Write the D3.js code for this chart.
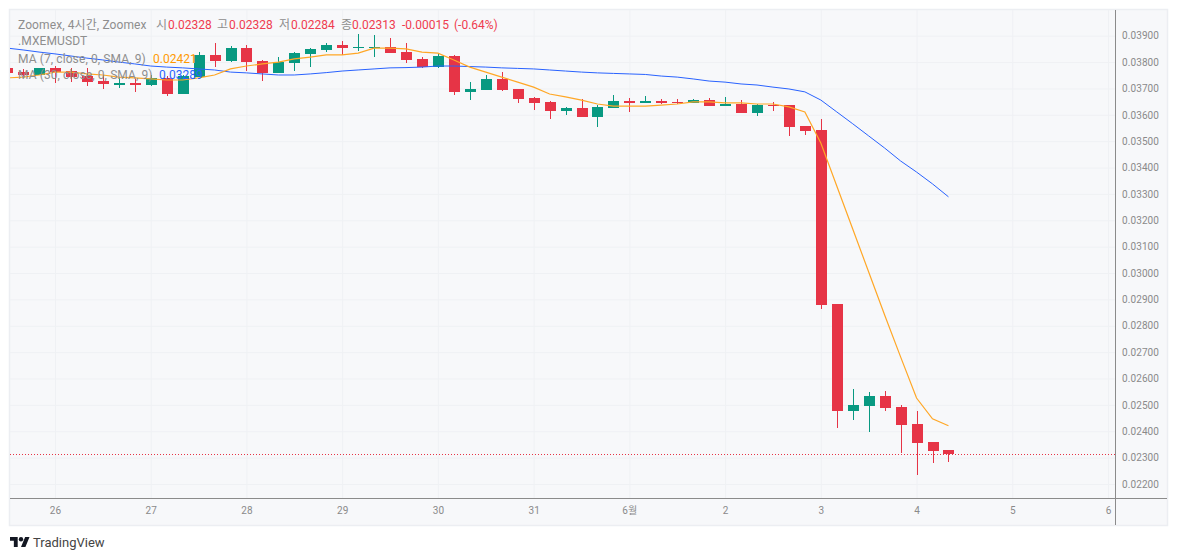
<!DOCTYPE html>
<html>
<head>
<meta charset="utf-8">
<style>
  html, body { margin: 0; padding: 0; background: #fff; }
  svg { display: block; }
  text { font-family: Roboto, "Noto Sans CJK KR", sans-serif; }
  .tick text { fill: #8a8a8a; font-size: 10px; letter-spacing: 0.1px; }
  .legend text { font-size: 12px; }
</style>
<script src="https://cdn.jsdelivr.net/npm/d3@7"></script>
</head>
<body>
<div id="chart"></div>
<script>
const opens = [.03778,.03762,.03751,.03778,.03766,.03747,.03728,.03713,.03721,.03713,.03740,.03679,
  .03743,.03827,.03804,.03853,.03804,.03759,.03796,.03831,.03846,.03865,.03853,.03853,.03857,.03838,.03812,.03781,
  .03823,.03687,.03694,.03736,.03698,.03664,.03649,.03614,.03626,.03592,.03626,
  .03652,.03645,.03652,.03649,.03645,.03656,.03633,.03641,.03607,.03637,.03637,.03558,.03542,
  .02883,.02477,.02496,.02533,.02492,.02428,.02359,.02328]
const highs = [.03785,.03774,.03778,.03785,.03778,.03778,.03751,.03740,.03736,.03751,.03747,.03751,
  .03838,.03872,.03861,.03865,.03808,.03819,.03838,.03853,.03872,.03880,.03906,.03903,.03891,.03872,.03819,.03834,
  .03827,.03724,.03751,.03762,.03698,.03668,.03652,.03630,.03660,.03637,.03675,
  .03664,.03671,.03660,.03660,.03660,.03664,.03668,.03656,.03641,.03649,.03637,.03558,.03584,
  .02883,.02560,.02548,.02552,.02500,.02477,.02359,.02328]
const lows = [.03751,.03740,.03751,.03721,.03724,.03709,.03698,.03702,.03687,.03709,.03671,.03679,
  .03743,.03781,.03800,.03766,.03728,.03759,.03766,.03781,.03838,.03827,.03842,.03819,.03834,.03796,.03778,.03778,
  .03675,.03656,.03694,.03690,.03645,.03618,.03584,.03599,.03592,.03554,.03626,
  .03611,.03645,.03641,.03641,.03645,.03633,.03633,.03607,.03596,.03614,.03520,.03523,.02864,
  .02412,.02442,.02397,.02477,.02316,.02233,.02281,.02284]
const closes = [.03759,.03751,.03778,.03762,.03743,.03724,.03717,.03721,.03713,.03740,.03679,.03747,
  .03827,.03804,.03853,.03800,.03759,.03800,.03834,.03850,.03865,.03853,.03857,.03857,.03834,.03808,.03781,.03823,
  .03687,.03698,.03736,.03694,.03660,.03645,.03614,.03626,.03592,.03630,.03652,
  .03645,.03652,.03645,.03645,.03656,.03633,.03641,.03607,.03637,.03633,.03554,.03539,.02879,
  .02477,.02500,.02533,.02488,.02424,.02355,.02324,.02313]
const ma7 = [.03740,.03743,.03751,.03762,.03762,.03755,.03751,.03743,.03740,.03736,.03732,.03732,
  .03740,.03751,.03774,.03785,.03793,.03800,.03812,.03819,.03827,.03827,.03834,.03853,.03853,.03850,.03838,.03834,
  .03808,.03781,.03762,.03743,.03724,.03705,.03679,.03668,.03656,.03641,.03633,
  .03633,.03633,.03637,.03641,.03649,.03649,.03645,.03645,.03641,.03641,.03630,.03611,.03493,
  .03330,.03167,.03004,.02841,.02682,.02526,.02447,.02421]
const ma30 = [.03853,.03846,.03838,.03831,.03823,.03815,.03808,.03800,.03793,.03785,.03781,.03778,
  .03774,.03770,.03762,.03759,.03755,.03751,.03751,.03755,.03760,.03766,.03770,.03774,.03778,.03779,.03781,.03785,
  .03785,.03783,.03781,.03778,.03776,.03774,.03770,.03766,.03762,.03759,.03757,
  .03755,.03753,.03747,.03743,.03736,.03728,.03724,.03717,.03713,.03705,.03698,.03687,.03656,
  .03611,.03566,.03520,.03474,.03425,.03383,.03338,.03289]
const priceTicks = [.022,.023,.024,.025,.026,.027,.028,.029,.030,.031,.032,.033,.034,.035,.036,.037,.038,.039]
const dayTicks = ['26','27','28','29','30','31','6월','2','3','4','5','6']

const width = 1177
const height = 560
const frame = {left: 10, top: 10, right: 1167, bottom: 525}
const plot = {right: 1115, bottom: 498}
const upColor = '#089981'
const downColor = '#e63446'
const gridColor = '#eff1f4'
const axisColor = '#8b8b8b'
const orange = '#ffa726'
const blue = '#2962ff'

const firstCandle = new Date(Date.UTC(2023, 4, 25, 12))
const times = opens.map((d, i) => d3.utcHour.offset(firstCandle, i * 4))
const days = dayTicks.map((d, i) => d3.utcDay.offset(new Date(Date.UTC(2023, 4, 26)), i))

const xScale = d3.scaleUtc().domain([days[0], days[11]]).range([55, 1108])
const yScale = d3.scaleLinear().domain([.039, .022]).range([35.7, 484])

const svg = d3.select('#chart').append('svg').attr('width', width).attr('height', height)

svg.append('rect')
  .attr('x', frame.left - 0.5).attr('y', frame.top - 0.5)
  .attr('width', frame.right - frame.left + 1).attr('height', frame.bottom - frame.top + 1)
  .attr('fill', '#f7f8fa').attr('stroke', '#eceef2').attr('stroke-width', 1.5)

svg.append('clipPath').attr('id', 'plot-clip').append('rect')
  .attr('x', frame.left).attr('y', frame.top)
  .attr('width', plot.right - frame.left).attr('height', plot.bottom - frame.top)

// Grid
svg.append('g')
  .attr('transform', `translate(0,${plot.bottom})`)
  .call(d3.axisBottom(xScale).tickValues(days).tickSize(-(plot.bottom - frame.top)).tickFormat(''))
  .call(g => g.select('.domain').remove())
  .call(g => g.selectAll('line').attr('stroke', gridColor))

svg.append('g')
  .attr('transform', `translate(${plot.right},0)`)
  .call(d3.axisLeft(yScale).tickValues(priceTicks).tickSize(plot.right - frame.left).tickFormat(''))
  .call(g => g.select('.domain').remove())
  .call(g => g.selectAll('line').attr('stroke', gridColor))

const marks = svg.append('g').attr('clip-path', 'url(#plot-clip)')

// Candles
const candleColor = i => closes[i] >= opens[i] ? upColor : downColor
const candleX = i => Math.round(xScale(times[i]))

marks.append('g').selectAll('line').data(times).join('line')
  .attr('x1', (d, i) => candleX(i) + 0.5).attr('x2', (d, i) => candleX(i) + 0.5)
  .attr('y1', (d, i) => Math.round(yScale(highs[i])))
  .attr('y2', (d, i) => Math.round(yScale(lows[i])))
  .attr('stroke', (d, i) => candleColor(i))

marks.append('g').selectAll('rect').data(times).join('rect')
  .attr('x', (d, i) => candleX(i) - 5)
  .attr('width', 11)
  .attr('y', (d, i) => Math.round(yScale(Math.max(opens[i], closes[i]))))
  .attr('height', (d, i) => Math.max(1, Math.round(Math.abs(yScale(opens[i]) - yScale(closes[i])))))
  .attr('fill', (d, i) => candleColor(i))

// Moving averages
const line = d3.line().x((d, i) => xScale(times[i])).y(d => yScale(d))
marks.append('path').datum(ma30).attr('d', line).attr('fill', 'none').attr('stroke', blue).attr('stroke-width', 1)
marks.append('path').datum(ma7).attr('d', line).attr('fill', 'none').attr('stroke', orange).attr('stroke-width', 1.2)

// Last price line
svg.append('line')
  .attr('x1', frame.left).attr('x2', plot.right)
  .attr('y1', Math.round(yScale(closes[closes.length - 1])) + 0.5)
  .attr('y2', Math.round(yScale(closes[closes.length - 1])) + 0.5)
  .attr('stroke', downColor).attr('stroke-dasharray', '1 2')

// Axes
svg.append('g')
  .attr('transform', `translate(${plot.right},0)`)
  .call(d3.axisRight(yScale).tickValues(priceTicks).tickSize(0).tickPadding(7).tickFormat(d3.format('.5f')))
  .call(g => g.select('.domain').remove())

svg.append('g')
  .attr('transform', `translate(0,${plot.bottom})`)
  .call(d3.axisBottom(xScale).tickValues(days).tickSize(0).tickPadding(9).tickFormat((d, i) => dayTicks[i]))
  .call(g => g.select('.domain').remove())

svg.append('line')
  .attr('x1', frame.left).attr('x2', frame.right).attr('y1', plot.bottom + 0.5).attr('y2', plot.bottom + 0.5)
  .attr('stroke', axisColor)
svg.append('line')
  .attr('x1', plot.right + 0.5).attr('x2', plot.right + 0.5).attr('y1', frame.top).attr('y2', frame.bottom)
  .attr('stroke', axisColor)

// Legend
const legend = svg.append('g').attr('class', 'legend')
const legendText = (x, y, text, fill) => legend.append('text')
  .attr('x', x).attr('y', y).attr('fill', fill).text(text)

const legendGray = '#8e8e8e'
const legendRed = '#ef3b4f'
const grayText = (x, y, text) => legendText(x, y, text, legendGray).attr('letter-spacing', 0.1)
grayText(18, 29, 'Zoomex, 4시간, Zoomex')
grayText(156, 29, '시')
legendText(168, 29, d3.format('.5f')(opens[59]), legendRed)
grayText(217, 29, '고')
legendText(229, 29, d3.format('.5f')(highs[59]), legendRed)
grayText(279, 29, '저')
legendText(291, 29, d3.format('.5f')(lows[59]), legendRed)
grayText(341, 29, '종')
legendText(352, 29, d3.format('.5f')(closes[59]), legendRed)
legendText(402, 29, '-0.00015', legendRed)
legendText(454, 29, '(-0.64%)', legendRed)
grayText(18, 45, '.MXEMUSDT')
grayText(18, 63, 'MA (7, close, 0, SMA, 9)')
legendText(153, 63, d3.format('.5f')(ma7[59]), '#ff9800')
grayText(18, 79, 'MA (30, close, 0, SMA, 9)')
legendText(159, 79, d3.format('.5f')(ma30[59]), blue)

// Attribution
svg.append('g')
  .attr('transform', 'translate(10,534.8) scale(0.55)')
  .call(g => g.append('path').attr('d', 'M14 22H7V11H0V4h14v18zM28 22h-8l7.5-18h8L28 22z').attr('fill', '#131722'))
  .call(g => g.append('circle').attr('cx', 20).attr('cy', 8).attr('r', 4).attr('fill', '#131722'))
svg.append('text')
  .attr('x', 33).attr('y', 547).attr('fill', '#444').attr('font-size', 13).text('TradingView')
</script>
</body>
</html>
